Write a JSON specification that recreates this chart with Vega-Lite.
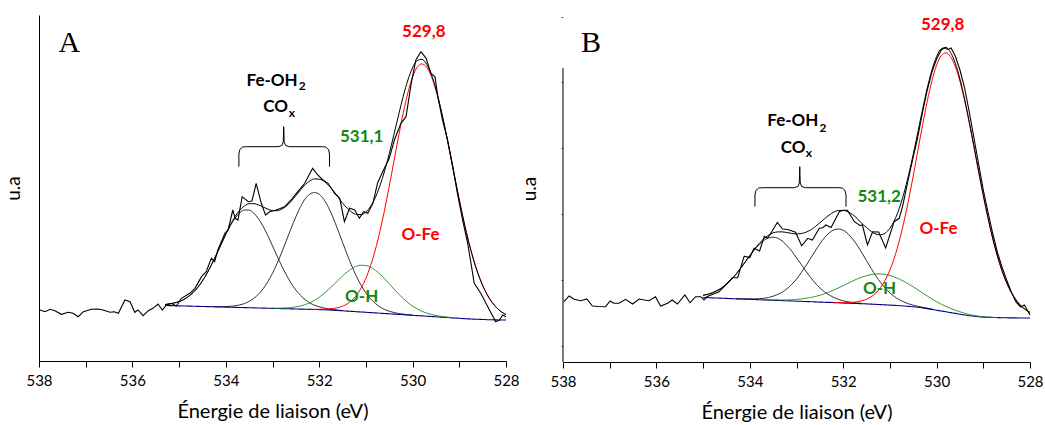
{
"$schema": "https://vega.github.io/schema/vega-lite/v6.json",
"background": "white",
"padding": {"left": 4, "top": 15, "right": 0, "bottom": 0},
"spacing": 57,
"bounds": "flush",
"config": {"view": {"stroke": null}, "text": {"font": "Lato"},
 "axisY": {"labels": false, "ticks": false, "grid": false, "domainColor": "#000", "titleFont": "Lato", "titleFontSize": 19, "titleFontWeight": "normal", "titleColor": "#000"},
 "axisX": {"grid": false, "tickSize": 6, "domainColor": "#000", "tickColor": "#000", "labelColor": "#000", "titleColor": "#000", "labelFont": "Lato", "labelFontSize": 15, "titleFont": "Lato", "titleFontSize": 20, "titleFontWeight": "normal", "labelPadding": 6, "titlePadding": 13, "labelFlush": false, "labelOverlap": false}},
"datasets": {
"fitA": [
{"x":535.3,"bg":55.5,"c1":56.5,"e":56.5},
{"x":535.2,"bg":55.4,"c1":57.1,"e":57.1},
{"x":535.1,"bg":55.3,"c1":58.1,"e":58.1},
{"x":535.0,"bg":55.1,"c1":59.4,"e":59.4},
{"x":534.9,"bg":55.0,"c1":61.5,"e":61.5},
{"x":534.8,"bg":54.9,"c1":64.5,"e":64.5},
{"x":534.7,"bg":54.8,"c1":68.5,"e":68.5},
{"x":534.6,"bg":54.6,"c1":73.6,"e":73.6},
{"x":534.5,"bg":54.5,"c1":80.1,"e":80.1},
{"x":534.4,"bg":54.4,"c1":87.9,"e":87.9},
{"x":534.3,"bg":54.3,"c1":96.8,"c2":54.4,"e":96.9},
{"x":534.2,"bg":54.1,"c1":106.4,"c2":54.3,"e":106.6},
{"x":534.1,"bg":54.0,"c1":116.5,"c2":54.3,"e":116.8},
{"x":534.0,"bg":53.9,"c1":126.4,"c2":54.5,"e":127.0},
{"x":533.9,"bg":53.8,"c1":135.5,"c2":54.7,"e":136.4},
{"x":533.8,"bg":53.6,"c1":142.9,"c2":55.2,"e":144.5},
{"x":533.7,"bg":53.5,"c1":148.3,"c2":56.1,"e":150.9},
{"x":533.6,"bg":53.4,"c1":151.0,"c2":57.5,"e":155.1},
{"x":533.5,"bg":53.3,"c1":150.9,"c2":59.7,"e":157.3},
{"x":533.4,"bg":53.1,"c1":147.9,"c2":62.6,"e":157.4},
{"x":533.3,"bg":53.0,"c1":142.3,"c2":66.8,"e":156.1},
{"x":533.2,"bg":52.9,"c1":134.6,"c2":72.3,"e":154.0},
{"x":533.1,"bg":52.8,"c1":125.3,"c2":79.3,"e":151.9},
{"x":533.0,"bg":52.6,"c1":115.1,"c2":87.7,"c3":52.8,"e":150.4},
{"x":532.9,"bg":52.5,"c1":104.8,"c2":97.7,"c3":52.8,"e":150.3},
{"x":532.8,"bg":52.4,"c1":94.9,"c2":108.9,"c3":52.9,"e":151.9},
{"x":532.7,"bg":52.3,"c1":85.8,"c2":120.8,"c3":53.1,"e":155.1},
{"x":532.6,"bg":52.1,"c1":77.7,"c2":132.8,"c3":53.4,"e":159.7},
{"x":532.5,"bg":52.0,"c1":71.0,"c2":144.2,"c3":54.1,"e":165.3},
{"x":532.4,"bg":51.9,"c1":65.6,"c2":154.3,"c3":55.0,"e":171.1},
{"x":532.3,"bg":51.8,"c1":61.4,"c2":162.1,"c3":56.4,"e":176.3},
{"x":532.2,"bg":51.6,"c1":58.1,"c2":166.9,"c3":58.2,"c4":51.7,"e":180.1},
{"x":532.1,"bg":51.5,"c1":55.8,"c2":168.5,"c3":60.6,"c4":51.7,"e":182.1},
{"x":532.0,"bg":51.4,"c1":54.2,"c2":166.7,"c3":63.7,"c4":51.7,"e":181.8},
{"x":531.9,"bg":51.3,"c1":53.0,"c2":161.6,"c3":67.4,"c4":51.9,"e":179.9},
{"x":531.8,"bg":51.1,"c1":52.1,"c2":153.5,"c3":71.5,"c4":52.1,"e":175.6},
{"x":531.7,"bg":50.8,"c1":51.4,"c2":143.0,"c3":75.9,"c4":52.5,"e":170.4},
{"x":531.6,"bg":50.5,"c1":50.9,"c2":131.2,"c3":80.5,"c4":53.3,"e":164.4},
{"x":531.5,"bg":50.2,"c1":50.4,"c2":118.7,"c3":85.0,"c4":54.8,"e":157.8},
{"x":531.4,"bg":49.9,"c2":106.4,"c3":89.1,"c4":57.1,"e":152.8},
{"x":531.3,"bg":49.6,"c2":94.8,"c3":92.4,"c4":60.7,"e":148.7},
{"x":531.2,"bg":49.3,"c2":84.4,"c3":94.8,"c4":65.9,"e":146.5},
{"x":531.1,"bg":49.0,"c2":75.5,"c3":95.8,"c4":73.1,"e":146.4},
{"x":531.0,"bg":48.7,"c2":68.1,"c3":95.5,"c4":82.8,"e":149.0},
{"x":530.9,"bg":48.4,"c2":62.2,"c3":93.9,"c4":95.3,"e":154.6},
{"x":530.8,"bg":48.1,"c2":57.6,"c3":90.9,"c4":110.9,"e":163.2},
{"x":530.7,"bg":47.8,"c2":54.2,"c3":87.0,"c4":129.6,"e":175.2},
{"x":530.6,"bg":47.5,"c2":51.6,"c3":82.3,"c4":151.1,"e":190.0},
{"x":530.5,"bg":47.2,"c2":49.8,"c3":77.2,"c4":174.8,"e":207.4},
{"x":530.4,"bg":46.9,"c2":48.5,"c3":72.0,"c4":199.7,"e":226.4},
{"x":530.3,"bg":46.6,"c2":47.5,"c3":67.0,"c4":224.7,"e":246.0},
{"x":530.2,"bg":46.3,"c2":46.9,"c3":62.4,"c4":248.1,"e":264.8},
{"x":530.1,"bg":46.0,"c2":46.3,"c3":58.3,"c4":268.4,"e":281.0},
{"x":530.0,"bg":45.7,"c2":45.8,"c3":54.8,"c4":284.1,"e":293.4},
{"x":529.9,"bg":45.4,"c3":52.0,"c4":293.9,"e":300.5},
{"x":529.8,"bg":45.1,"c3":49.7,"c4":297.1,"e":301.7},
{"x":529.7,"bg":44.8,"c3":47.9,"c4":293.8,"e":296.9},
{"x":529.6,"bg":44.5,"c3":46.6,"c4":284.9,"e":287.0},
{"x":529.5,"bg":44.2,"c3":45.5,"c4":270.7,"e":272.0},
{"x":529.4,"bg":43.9,"c3":44.7,"c4":252.4,"e":253.2},
{"x":529.3,"bg":43.6,"c3":44.1,"c4":231.1,"e":231.6},
{"x":529.2,"bg":43.3,"c3":43.6,"c4":207.9,"e":208.2},
{"x":529.1,"bg":43.0,"c3":43.1,"c4":184.1,"e":184.3},
{"x":529.0,"bg":42.7,"c4":160.9,"e":161.0},
{"x":528.9,"bg":42.4,"c4":139.0,"e":139.0},
{"x":528.8,"bg":42.1,"c4":119.3,"e":119.3},
{"x":528.7,"bg":41.9,"c4":102.1,"e":102.1},
{"x":528.6,"bg":41.7,"c4":87.5,"e":87.5},
{"x":528.5,"bg":41.5,"c4":75.6,"e":75.6},
{"x":528.4,"bg":41.3,"c4":66.1,"e":66.1},
{"x":528.3,"bg":41.2,"c4":58.8,"e":58.8},
{"x":528.2,"bg":41.1,"c4":53.3,"e":53.3},
{"x":528.1,"bg":41.0,"c4":49.2,"e":49.2},
{"x":528.0,"bg":41.0,"c4":46.4,"e":46.4}
],
"fitB": [
{"x":535.0,"bg":64.5,"c1":66.7,"e":66.7},
{"x":534.9,"bg":64.3,"c1":67.7,"e":67.7},
{"x":534.8,"bg":64.1,"c1":69.2,"e":69.2},
{"x":534.7,"bg":64.0,"c1":71.4,"e":71.4},
{"x":534.6,"bg":63.8,"c1":74.2,"e":74.2},
{"x":534.5,"bg":63.6,"c1":77.9,"e":77.9},
{"x":534.4,"bg":63.4,"c1":82.3,"e":82.3},
{"x":534.3,"bg":63.2,"c1":87.5,"c2":63.3,"e":87.6},
{"x":534.2,"bg":63.0,"c1":93.4,"c2":63.1,"e":93.5},
{"x":534.1,"bg":62.9,"c1":99.8,"c2":63.1,"e":100.0},
{"x":534.0,"bg":62.7,"c1":106.1,"c2":63.1,"e":106.5},
{"x":533.9,"bg":62.5,"c1":112.2,"c2":63.1,"e":112.9},
{"x":533.8,"bg":62.3,"c1":117.4,"c2":63.3,"c3":62.4,"e":118.5},
{"x":533.7,"bg":62.1,"c1":121.5,"c2":63.7,"c3":62.2,"e":123.2},
{"x":533.6,"bg":61.9,"c1":124.0,"c2":64.5,"c3":62.1,"e":126.8},
{"x":533.5,"bg":61.8,"c1":124.8,"c2":65.8,"c3":62.1,"e":129.1},
{"x":533.4,"bg":61.6,"c1":123.7,"c2":67.6,"c3":62.0,"e":130.1},
{"x":533.3,"bg":61.4,"c1":120.8,"c2":70.1,"c3":62.0,"e":130.1},
{"x":533.2,"bg":61.2,"c1":116.3,"c2":73.4,"c3":62.1,"e":129.4},
{"x":533.1,"bg":61.0,"c1":110.7,"c2":77.7,"c3":62.2,"e":128.6},
{"x":533.0,"bg":60.8,"c1":104.2,"c2":82.9,"c3":62.5,"e":128.0},
{"x":532.9,"bg":60.7,"c1":97.6,"c2":89.2,"c3":63.1,"e":128.5},
{"x":532.8,"bg":60.5,"c1":90.9,"c2":96.1,"c3":63.7,"e":129.7},
{"x":532.7,"bg":60.3,"c1":84.6,"c2":103.5,"c3":64.5,"e":132.0},
{"x":532.6,"bg":60.1,"c1":79.0,"c2":111.0,"c3":65.5,"e":135.3},
{"x":532.5,"bg":59.9,"c1":74.2,"c2":118.1,"c3":66.7,"e":139.2},
{"x":532.4,"bg":59.7,"c1":70.1,"c2":124.3,"c3":68.2,"e":143.2},
{"x":532.3,"bg":59.6,"c1":67.0,"c2":129.1,"c3":70.1,"e":147.0},
{"x":532.2,"bg":59.4,"c1":64.5,"c2":132.1,"c3":72.0,"c4":59.5,"e":149.9},
{"x":532.1,"bg":59.2,"c1":62.6,"c2":133.0,"c3":74.1,"c4":59.4,"e":151.5},
{"x":532.0,"bg":59.0,"c1":61.2,"c2":131.7,"c3":76.4,"c4":59.3,"e":151.6},
{"x":531.9,"bg":58.8,"c1":60.2,"c2":128.3,"c3":78.7,"c4":59.4,"e":150.2},
{"x":531.8,"bg":58.6,"c1":59.5,"c2":123.2,"c3":80.9,"c4":59.6,"e":147.4},
{"x":531.7,"bg":58.5,"c1":59.0,"c2":116.7,"c3":83.1,"c4":60.2,"e":143.5},
{"x":531.6,"bg":58.3,"c1":58.6,"c2":109.2,"c3":84.9,"c4":61.2,"e":138.4},
{"x":531.5,"bg":58.1,"c2":101.3,"c3":86.4,"c4":62.8,"e":134.5},
{"x":531.4,"bg":57.9,"c2":93.5,"c3":87.5,"c4":65.3,"e":130.5},
{"x":531.3,"bg":57.6,"c2":86.1,"c3":88.0,"c4":69.0,"e":127.9},
{"x":531.2,"bg":57.4,"c2":79.5,"c3":88.1,"c4":74.4,"e":127.2},
{"x":531.1,"bg":57.1,"c2":73.8,"c3":87.5,"c4":81.9,"e":129.0},
{"x":531.0,"bg":56.9,"c2":69.1,"c3":86.5,"c4":91.9,"e":133.7},
{"x":530.9,"bg":56.6,"c2":65.3,"c3":84.9,"c4":104.9,"e":141.9},
{"x":530.8,"bg":56.3,"c2":62.3,"c3":82.9,"c4":120.9,"e":153.5},
{"x":530.7,"bg":56.0,"c2":60.0,"c3":80.6,"c4":140.1,"e":168.7},
{"x":530.6,"bg":55.6,"c2":58.2,"c3":77.9,"c4":162.1,"e":187.0},
{"x":530.5,"bg":55.2,"c2":56.8,"c3":75.1,"c4":186.3,"e":207.8},
{"x":530.4,"bg":54.7,"c2":55.7,"c3":72.1,"c4":211.8,"e":230.2},
{"x":530.3,"bg":54.1,"c2":54.7,"c3":69.0,"c4":237.1,"e":252.6},
{"x":530.2,"bg":53.4,"c2":53.8,"c3":66.0,"c4":260.8,"e":273.8},
{"x":530.1,"bg":52.6,"c2":52.8,"c3":63.1,"c4":281.2,"e":291.9},
{"x":530.0,"bg":51.8,"c3":60.3,"c4":296.8,"e":305.4},
{"x":529.9,"bg":51.0,"c3":57.8,"c4":306.4,"e":313.2},
{"x":529.8,"bg":50.2,"c3":55.6,"c4":309.2,"e":314.6},
{"x":529.7,"bg":49.4,"c3":53.6,"c4":305.3,"e":309.5},
{"x":529.6,"bg":48.6,"c3":51.8,"c4":295.6,"e":298.8},
{"x":529.5,"bg":47.8,"c3":50.2,"c4":280.6,"e":283.0},
{"x":529.4,"bg":47.0,"c3":48.7,"c4":261.3,"e":263.0},
{"x":529.3,"bg":46.3,"c3":47.5,"c4":239.0,"e":240.2},
{"x":529.2,"bg":45.7,"c3":46.6,"c4":214.9,"e":215.8},
{"x":529.1,"bg":45.2,"c3":45.8,"c4":190.2,"e":190.8},
{"x":529.0,"bg":44.9,"c3":45.3,"c4":166.3,"e":166.7},
{"x":528.9,"bg":44.7,"c3":45.0,"c4":144.0,"e":144.3},
{"x":528.8,"bg":44.5,"c3":44.7,"c4":123.8,"e":124.0},
{"x":528.7,"bg":44.4,"c3":44.5,"c4":106.3,"e":106.4},
{"x":528.6,"bg":44.3,"c4":91.4,"e":91.4},
{"x":528.5,"bg":44.2,"c4":79.2,"e":79.2},
{"x":528.4,"bg":44.1,"c4":69.6,"e":69.6},
{"x":528.3,"bg":44.1,"c4":62.2,"e":62.2},
{"x":528.2,"bg":44.0,"c4":56.5,"e":56.5},
{"x":528.1,"bg":44.0,"c4":52.5,"e":52.5},
{"x":528.0,"bg":44.0,"c4":49.6,"e":49.6}
],
"rawA": [
{"x":537.98,"v":51},{"x":537.87,"v":49.3},{"x":537.76,"v":51.7},{"x":537.66,"v":50.3},{"x":537.52,"v":46.7},{"x":537.37,"v":48.7},{"x":537.27,"v":47.7},{"x":537.16,"v":44.3},{"x":537.05,"v":49.3},{"x":536.88,"v":51.7},{"x":536.73,"v":52},{"x":536.63,"v":51},{"x":536.48,"v":48.7},{"x":536.39,"v":49.3},{"x":536.30,"v":47.7},{"x":536.16,"v":61},{"x":536.05,"v":59.3},{"x":535.95,"v":48.7},{"x":535.88,"v":51},{"x":535.77,"v":45.3},{"x":535.66,"v":50.3},{"x":535.56,"v":52.7},{"x":535.45,"v":57},{"x":535.36,"v":51},{"x":535.27,"v":56},{"x":535.17,"v":57.7},{"x":535.06,"v":55},{"x":534.95,"v":62.7},{"x":534.77,"v":67.7},{"x":534.66,"v":72.7},{"x":534.52,"v":84.3},{"x":534.42,"v":89.3},{"x":534.31,"v":102.7},{"x":534.24,"v":99.3},{"x":534.17,"v":111},{"x":534.02,"v":127.7},{"x":533.95,"v":131},{"x":533.85,"v":151},{"x":533.80,"v":142.7},{"x":533.74,"v":141},{"x":533.65,"v":164.3},{"x":533.52,"v":159.3},{"x":533.44,"v":160},{"x":533.35,"v":177.7},{"x":533.24,"v":157.7},{"x":533.15,"v":146},{"x":533.06,"v":149.3},{"x":532.92,"v":151},{"x":532.74,"v":154.3},{"x":532.60,"v":161},{"x":532.49,"v":167.7},{"x":532.31,"v":177.7},{"x":532.14,"v":192.7},{"x":532.03,"v":186},{"x":531.92,"v":181},{"x":531.81,"v":177.7},{"x":531.67,"v":167.7},{"x":531.56,"v":162.7},{"x":531.46,"v":139.3},{"x":531.35,"v":152.7},{"x":531.24,"v":151},{"x":531.14,"v":142.7},{"x":531.05,"v":149.3},{"x":530.96,"v":147.7},{"x":530.85,"v":157.7},{"x":530.75,"v":178},{"x":530.64,"v":189.3},{"x":530.50,"v":202.7},{"x":530.39,"v":221},{"x":530.25,"v":237.7},{"x":530.14,"v":244.3},{"x":530.03,"v":277.7},{"x":529.93,"v":301},{"x":529.82,"v":309.3},{"x":529.71,"v":302.7},{"x":529.61,"v":287.7},{"x":529.52,"v":284.3},{"x":529.46,"v":264.3},{"x":529.36,"v":241},{"x":529.25,"v":221},{"x":529.14,"v":194.3},{"x":529.04,"v":167.7},{"x":528.93,"v":141},{"x":528.82,"v":117.7},{"x":528.68,"v":77.7},{"x":528.54,"v":67.7},{"x":528.39,"v":54.3},{"x":528.22,"v":39.3},{"x":528.14,"v":41},{"x":528.07,"v":46},{"x":528.00,"v":44.3}
],
"rawB": [
{"x":537.98,"v":60.3},{"x":537.87,"v":66},{"x":537.76,"v":62.7},{"x":537.62,"v":61.3},{"x":537.49,"v":63},{"x":537.37,"v":56},{"x":537.24,"v":55.5},{"x":537.09,"v":55.3},{"x":536.99,"v":61},{"x":536.91,"v":58.7},{"x":536.80,"v":58.7},{"x":536.66,"v":62.7},{"x":536.51,"v":58},{"x":536.37,"v":63},{"x":536.26,"v":62},{"x":536.16,"v":61.3},{"x":536.02,"v":65.3},{"x":535.91,"v":56},{"x":535.76,"v":58.7},{"x":535.66,"v":62},{"x":535.55,"v":58},{"x":535.39,"v":67},{"x":535.28,"v":59.3},{"x":535.16,"v":65.3},{"x":535.05,"v":65.3},{"x":534.98,"v":62},{"x":534.92,"v":65.3},{"x":534.66,"v":70.3},{"x":534.55,"v":75.3},{"x":534.37,"v":84.2},{"x":534.26,"v":84.3},{"x":534.12,"v":105.8},{"x":534.00,"v":104.5},{"x":533.91,"v":113.7},{"x":533.79,"v":111},{"x":533.69,"v":125.7},{"x":533.62,"v":123.7},{"x":533.53,"v":130.3},{"x":533.41,"v":139.5},{"x":533.30,"v":133},{"x":533.19,"v":132.5},{"x":533.02,"v":129.7},{"x":532.89,"v":116.2},{"x":532.76,"v":123.7},{"x":532.66,"v":122},{"x":532.51,"v":133.7},{"x":532.44,"v":134.3},{"x":532.37,"v":137},{"x":532.26,"v":134.5},{"x":532.08,"v":150.5},{"x":531.99,"v":151.7},{"x":531.91,"v":151.7},{"x":531.76,"v":140.3},{"x":531.64,"v":136.5},{"x":531.59,"v":137},{"x":531.48,"v":117},{"x":531.37,"v":130.3},{"x":531.24,"v":130},{"x":531.09,"v":114},{"x":530.91,"v":140.3},{"x":530.80,"v":143.7},{"x":530.73,"v":155.3},{"x":530.60,"v":184},{"x":530.50,"v":205},{"x":530.42,"v":221},{"x":530.30,"v":250},{"x":530.20,"v":272},{"x":530.10,"v":290},{"x":530.00,"v":303},{"x":529.90,"v":312},{"x":529.83,"v":314},{"x":529.76,"v":312.5},{"x":529.69,"v":314},{"x":529.60,"v":306},{"x":529.50,"v":292},{"x":529.40,"v":274},{"x":529.30,"v":250},{"x":529.20,"v":224},{"x":529.10,"v":198},{"x":529.00,"v":172},{"x":528.90,"v":150},{"x":528.80,"v":129},{"x":528.70,"v":110},{"x":528.60,"v":95},{"x":528.50,"v":82},{"x":528.40,"v":70},{"x":528.30,"v":60},{"x":528.20,"v":55},{"x":528.12,"v":57},{"x":528.00,"v":47}
],
"braceA": [
{"o":1,"x":533.72,"y":194.3},{"o":2,"x":533.72,"y":207},{"o":3,"x":533.70,"y":211.5},{"o":4,"x":533.64,"y":214.0},{"o":5,"x":533.55,"y":214.3},{"o":6,"x":532.88,"y":214.3},{"o":7,"x":532.80,"y":215.5},{"o":8,"x":532.77,"y":219},{"o":9,"x":532.76,"y":234.3},{"o":10,"x":532.75,"y":219},{"o":11,"x":532.72,"y":215.5},{"o":12,"x":532.64,"y":214.3},{"o":13,"x":531.95,"y":214.3},{"o":14,"x":531.86,"y":214.0},{"o":15,"x":531.80,"y":211.5},{"o":16,"x":531.78,"y":207},{"o":17,"x":531.78,"y":194.3}
],
"braceB": [
{"o":1,"x":533.89,"y":155.3},{"o":2,"x":533.89,"y":167},{"o":3,"x":533.87,"y":171.5},{"o":4,"x":533.81,"y":174.0},{"o":5,"x":533.72,"y":174.3},{"o":6,"x":533.05,"y":174.3},{"o":7,"x":532.97,"y":175.5},{"o":8,"x":532.94,"y":179},{"o":9,"x":532.93,"y":195.3},{"o":10,"x":532.92,"y":179},{"o":11,"x":532.89,"y":175.5},{"o":12,"x":532.81,"y":174.3},{"o":13,"x":532.11,"y":174.3},{"o":14,"x":532.02,"y":174.0},{"o":15,"x":531.96,"y":171.5},{"o":16,"x":531.94,"y":167},{"o":17,"x":531.94,"y":155.3}
],
"axB": [{"x":538,"y":0},{"x":538,"y":294}],
"labA": [
{"k":"panel","t":"A","x":537.35,"y":318},
{"k":"red","t":"529,8","x":529.76,"y":329},
{"k":"red","t":"O-Fe","x":529.83,"y":126},
{"k":"green","t":"531,1","x":531.09,"y":224},
{"k":"green","t":"O-H","x":531.09,"y":64},
{"k":"main","t":"Fe-OH","x":532.46,"y":280.3},
{"k":"main","t":"CO","x":532.67,"y":253.8},
{"k":"sub","t":"2","x":532.44,"y":274.8},
{"k":"sub","t":"x","x":532.65,"y":248.5}
],
"labB": [
{"k":"panel","t":"B","x":537.40,"y":319},
{"k":"red","t":"529,8","x":529.87,"y":337},
{"k":"red","t":"O-Fe","x":529.96,"y":133.5},
{"k":"green","t":"531,2","x":531.23,"y":165},
{"k":"green","t":"O-H","x":531.22,"y":73},
{"k":"main","t":"Fe-OH","x":532.53,"y":241},
{"k":"main","t":"CO","x":532.81,"y":213.7},
{"k":"sub","t":"2","x":532.51,"y":234},
{"k":"sub","t":"x","x":532.80,"y":209}
]
},
"hconcat": [
{
"width": 467, "height": 346,
"encoding": {"x": {"field": "x", "type": "quantitative", "scale": {"domain": [528, 538], "reverse": true, "nice": false, "zero": false},
 "axis": {"values": [538,537,536,535,534,533,532,531,530,529,528], "labelExpr": "datum.value % 2 === 0 ? datum.label : ''", "title": "Énergie de liaison (eV)"}}},
"layer": [
{"data": {"name": "fitA"}, "mark": {"type": "line", "color": "#1a1a1a", "strokeWidth": 0.9, "interpolate": "monotone"}, "encoding": {"y": {"field": "c1", "type": "quantitative", "scale": {"domain": [0, 346], "nice": false, "zero": false}, "axis": {"title": "u.a", "labels": false, "ticks": false, "titlePadding": 16}}}},
{"data": {"name": "fitA"}, "mark": {"type": "line", "color": "#1a1a1a", "strokeWidth": 0.9, "interpolate": "monotone"}, "encoding": {"y": {"field": "c2", "type": "quantitative"}}},
{"data": {"name": "fitA"}, "mark": {"type": "line", "color": "#000080", "strokeWidth": 1.1, "interpolate": "monotone"}, "encoding": {"y": {"field": "bg", "type": "quantitative"}}},
{"data": {"name": "fitA"}, "mark": {"type": "line", "color": "#1e8c1e", "strokeWidth": 0.9, "interpolate": "monotone"}, "encoding": {"y": {"field": "c3", "type": "quantitative"}}},
{"data": {"name": "fitA"}, "mark": {"type": "line", "color": "#ff0000", "strokeWidth": 1, "interpolate": "monotone"}, "encoding": {"y": {"field": "c4", "type": "quantitative"}}},
{"data": {"name": "fitA"}, "mark": {"type": "line", "color": "#000", "strokeWidth": 1, "interpolate": "monotone"}, "encoding": {"y": {"field": "e", "type": "quantitative"}}},
{"data": {"name": "rawA"}, "mark": {"type": "line", "color": "#000", "strokeWidth": 1.1}, "encoding": {"y": {"field": "v", "type": "quantitative"}}},
{"data": {"name": "braceA"}, "mark": {"type": "line", "color": "#000", "strokeWidth": 1}, "encoding": {"y": {"field": "y", "type": "quantitative"}, "order": {"field": "o", "type": "quantitative"}}},
{"data": {"name": "labA"}, "transform": [{"filter": "datum.k === 'panel'"}], "mark": {"type": "text", "font": "Liberation Serif", "fontSize": 30, "color": "#000", "align": "center", "baseline": "middle"}, "encoding": {"y": {"field": "y", "type": "quantitative"}, "text": {"field": "t"}}},
{"data": {"name": "labA"}, "transform": [{"filter": "datum.k === 'red'"}], "mark": {"type": "text", "font": "Lato", "fontWeight": "bold", "fontSize": 17, "color": "#ff0000", "align": "center", "baseline": "middle"}, "encoding": {"y": {"field": "y", "type": "quantitative"}, "text": {"field": "t"}}},
{"data": {"name": "labA"}, "transform": [{"filter": "datum.k === 'green'"}], "mark": {"type": "text", "font": "Lato", "fontWeight": "bold", "fontSize": 17, "color": "#118811", "align": "center", "baseline": "middle"}, "encoding": {"y": {"field": "y", "type": "quantitative"}, "text": {"field": "t"}}},
{"data": {"name": "labA"}, "transform": [{"filter": "datum.k === 'main'"}], "mark": {"type": "text", "font": "Lato", "fontWeight": "bold", "fontSize": 17, "color": "#000", "align": "right", "baseline": "middle"}, "encoding": {"y": {"field": "y", "type": "quantitative"}, "text": {"field": "t"}}},
{"data": {"name": "labA"}, "transform": [{"filter": "datum.k === 'sub'"}], "mark": {"type": "text", "font": "Lato", "fontWeight": "bold", "fontSize": 12, "color": "#000", "align": "left", "baseline": "middle"}, "encoding": {"y": {"field": "y", "type": "quantitative"}, "text": {"field": "t"}}}
]
},
{
"width": 467, "height": 347,
"encoding": {"x": {"field": "x", "type": "quantitative", "scale": {"domain": [528, 538], "reverse": true, "nice": false, "zero": false},
 "axis": {"values": [538,537,536,535,534,533,532,531,530,529,528], "labelExpr": "datum.value % 2 === 0 ? datum.label : ''", "title": "Énergie de liaison (eV)"}}},
"layer": [
{"data": {"name": "fitB"}, "mark": {"type": "line", "color": "#1a1a1a", "strokeWidth": 0.9, "interpolate": "monotone"}, "encoding": {"y": {"field": "c1", "type": "quantitative", "scale": {"domain": [0, 347], "nice": false, "zero": false}, "axis": {"title": "u.a", "labels": false, "ticks": true, "tickSize": 2, "tickColor": "#555", "domain": false, "values": [16.45,32.9,49.35,65.8,82.25,98.7,115.15,131.6,148.05,164.5,180.95,197.4,213.85,230.3,246.75,263.2,279.65,296.1,312.55,329,345.45], "titlePadding": 21}}}},
{"data": {"name": "axB"}, "mark": {"type": "line", "color": "#333", "strokeWidth": 1.3}, "encoding": {"y": {"field": "y", "type": "quantitative"}}},
{"data": {"name": "fitB"}, "mark": {"type": "line", "color": "#1a1a1a", "strokeWidth": 0.9, "interpolate": "monotone"}, "encoding": {"y": {"field": "c2", "type": "quantitative"}}},
{"data": {"name": "fitB"}, "mark": {"type": "line", "color": "#000080", "strokeWidth": 1.1, "interpolate": "monotone"}, "encoding": {"y": {"field": "bg", "type": "quantitative"}}},
{"data": {"name": "fitB"}, "mark": {"type": "line", "color": "#1e8c1e", "strokeWidth": 0.9, "interpolate": "monotone"}, "encoding": {"y": {"field": "c3", "type": "quantitative"}}},
{"data": {"name": "fitB"}, "mark": {"type": "line", "color": "#ff0000", "strokeWidth": 1, "interpolate": "monotone"}, "encoding": {"y": {"field": "c4", "type": "quantitative"}}},
{"data": {"name": "fitB"}, "mark": {"type": "line", "color": "#000", "strokeWidth": 1, "interpolate": "monotone"}, "encoding": {"y": {"field": "e", "type": "quantitative"}}},
{"data": {"name": "rawB"}, "mark": {"type": "line", "color": "#000", "strokeWidth": 1.1}, "encoding": {"y": {"field": "v", "type": "quantitative"}}},
{"data": {"name": "braceB"}, "mark": {"type": "line", "color": "#000", "strokeWidth": 1}, "encoding": {"y": {"field": "y", "type": "quantitative"}, "order": {"field": "o", "type": "quantitative"}}},
{"data": {"name": "labB"}, "transform": [{"filter": "datum.k === 'panel'"}], "mark": {"type": "text", "font": "Liberation Serif", "fontSize": 30, "color": "#000", "align": "center", "baseline": "middle"}, "encoding": {"y": {"field": "y", "type": "quantitative"}, "text": {"field": "t"}}},
{"data": {"name": "labB"}, "transform": [{"filter": "datum.k === 'red'"}], "mark": {"type": "text", "font": "Lato", "fontWeight": "bold", "fontSize": 17, "color": "#ff0000", "align": "center", "baseline": "middle"}, "encoding": {"y": {"field": "y", "type": "quantitative"}, "text": {"field": "t"}}},
{"data": {"name": "labB"}, "transform": [{"filter": "datum.k === 'green'"}], "mark": {"type": "text", "font": "Lato", "fontWeight": "bold", "fontSize": 17, "color": "#118811", "align": "center", "baseline": "middle"}, "encoding": {"y": {"field": "y", "type": "quantitative"}, "text": {"field": "t"}}},
{"data": {"name": "labB"}, "transform": [{"filter": "datum.k === 'main'"}], "mark": {"type": "text", "font": "Lato", "fontWeight": "bold", "fontSize": 17, "color": "#000", "align": "right", "baseline": "middle"}, "encoding": {"y": {"field": "y", "type": "quantitative"}, "text": {"field": "t"}}},
{"data": {"name": "labB"}, "transform": [{"filter": "datum.k === 'sub'"}], "mark": {"type": "text", "font": "Lato", "fontWeight": "bold", "fontSize": 12, "color": "#000", "align": "left", "baseline": "middle"}, "encoding": {"y": {"field": "y", "type": "quantitative"}, "text": {"field": "t"}}}
]
}
]
}
